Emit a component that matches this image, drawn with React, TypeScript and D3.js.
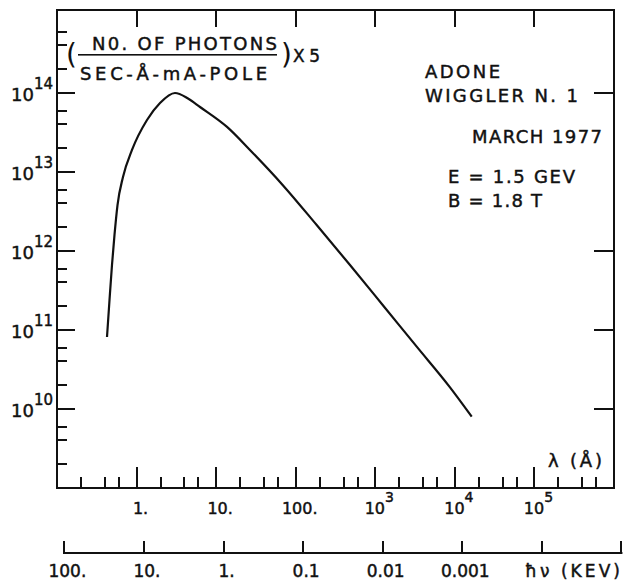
import React from "react";
import * as d3 from "d3";

// ---- data ----
const LAMBDA_A = [0.425, 0.457, 0.491, 0.528, 0.576, 0.675, 0.876, 1.352, 1.97, 3.04, 4.43, 6.27, 13.7, 26.6, 69.8, 183.5, 481, 1261, 3316, 8690, 16290];
const PHOTONS = [8.15e10, 2.4e11, 6.65e11, 1.6e12, 3.82e12, 8.65e12, 1.9e13, 4.55e13, 7.47e13, 1.0e14, 8.51e13, 6.65e13, 3.72e13, 1.9e13, 6.71e12, 2.13e12, 6.65e11, 2.03e11, 6.15e10, 1.88e10, 8.0e9];

const X_DECADES = [1, 10, 100, 1e3, 1e4, 1e5];
const X_LABEL_BASE = ["1.", "10.", "100.", "10", "10", "10"];
const X_LABEL_SUP = ["", "", "", "3", "4", "5"];
const X_MINOR_DECADES = [0.1, 1, 10, 100, 1e3, 1e4, 1e5];

const Y_DECADES = [1e10, 1e11, 1e12, 1e13, 1e14];
const Y_LABEL_SUP = ["10", "11", "12", "13", "14"];
const Y_MINOR_DECADES = [1e9, 1e10, 1e11, 1e12, 1e13, 1e14];
const Y_RIGHT_TICKS = [1e10, 1e11, 1e12, 1e14];
const MINOR_MULT = [2, 4, 6];

const HC_KEV_A = 12.398;
const ENERGY_KEV = [100, 10, 1, 0.1, 0.01, 0.001];
const ENERGY_LABELS = ["100.", "10.", "1.", "0.1", "0.01", "0.001"];
const ENERGY_EXTRA = [1e-4, 1e-5];

const INFO_LINES = ["ADONE", "WIGGLER N. 1", "MARCH 1977", "E = 1.5 GEV", "B = 1.8 T"];

export default function App() {
  const W = 623, H = 585;
  const L = 57, R = 614, T = 10, B = 488;
  const x = d3.scaleLog().domain([0.1, 1e6]).range([L, R]);
  const y = d3.scaleLog().domain([1e9, 1e15]).range([B, 14]);
  const ink = "#111111";
  const font = "'DejaVu Sans', sans-serif";

  const line = d3
    .line<number>()
    .x((_, i) => x(LAMBDA_A[i]))
    .y((d) => y(d))
    .curve(d3.curveMonotoneX);

  const xMinor: number[] = [];
  X_MINOR_DECADES.forEach((d) => MINOR_MULT.forEach((m) => xMinor.push(d * m)));
  const yMinor: number[] = [];
  Y_MINOR_DECADES.forEach((d) => MINOR_MULT.forEach((m) => yMinor.push(d * m)));

  const eY = 553;
  const energyAll = [...ENERGY_KEV, ...ENERGY_EXTRA];
  const eStart = x(HC_KEV_A / ENERGY_KEV[0]);
  const eEnd = x(HC_KEV_A / ENERGY_EXTRA[ENERGY_EXTRA.length - 1]);

  const xMajorPx = X_DECADES.map((d) => Math.round(x(d)));
  const xMinorPx = xMinor.map((v) => Math.round(x(v))).filter((p) => p > L + 2 && p < R - 2);
  const yMajorPx = Y_DECADES.map((d) => Math.round(y(d)));
  const yMinorPx = yMinor.map((v) => Math.round(y(v))).filter((p) => p > T + 2 && p < B - 2);
  const yRightPx = Y_RIGHT_TICKS.map((d) => Math.round(y(d)));
  const ePx = energyAll.map((e) => Math.round(x(HC_KEV_A / e)));

  const infoPos = [
    { x: 425, y: 78, w: 75 },
    { x: 425, y: 102, w: 153 },
    { x: 472, y: 143, w: 130 },
    { x: 448, y: 183, w: 127 },
    { x: 448, y: 207, w: 94 },
  ];

  const txt = { stroke: ink, strokeWidth: 0.45 };

  return (
    <svg
      width={W}
      height={H}
      style={{ position: "absolute", left: 0, top: 0, background: "#fff" }}
      fontFamily={font}
      fill={ink}
    >
      <rect x={0} y={0} width={W} height={H} fill="#fff" />

      {/* ticks */}
      <g fill={ink}>
        {xMajorPx.map((px, i) => (
          <rect key={"xb" + i} x={px - 1} y={B - 21} width={2} height={21} />
        ))}
        {xMinorPx.map((px, i) => (
          <rect key={"xm" + i} x={px - 1} y={B - 11} width={2} height={11} />
        ))}
        {xMajorPx.map((px, i) => (
          <rect key={"xt" + i} x={px - 1} y={T} width={2} height={17} />
        ))}
        {yMajorPx.map((py, i) => (
          <rect key={"yl" + i} x={L} y={py - 1} width={18} height={2} />
        ))}
        {yMinorPx.map((py, i) => (
          <rect key={"ym" + i} x={L} y={py - 1} width={10} height={2} />
        ))}
        {yRightPx.map((py, i) => (
          <rect key={"yr" + i} x={R - 20} y={py - 1} width={20} height={2} />
        ))}
        {ePx.map((px, i) => (
          <rect key={"et" + i} x={px - 1} y={eY - 12} width={2} height={13} />
        ))}
        <rect x={eStart - 1} y={eY - 1} width={eEnd - eStart + 2} height={2} />
      </g>

      {/* frame */}
      <rect x={L} y={T} width={R - L} height={B - T} fill="none" stroke={ink} strokeWidth={2} />

      {/* y labels */}
      {Y_DECADES.map((d, i) => (
        <text key={"yt" + d} x={53} y={y(d) + 8} fontSize={18} textAnchor="end" {...txt}>
          10
          <tspan dy={-12} fontSize={15}>{Y_LABEL_SUP[i]}</tspan>
        </text>
      ))}

      {/* x labels */}
      {X_DECADES.map((d, i) => (
        <text key={"xl" + d} x={x(d) + 4} y={514} fontSize={16} textAnchor="middle" {...txt}>
          {X_LABEL_BASE[i]}
          {X_LABEL_SUP[i] ? (
            <tspan dy={-12} fontSize={14}>{X_LABEL_SUP[i]}</tspan>
          ) : null}
        </text>
      ))}
      <text x={548} y={467} fontSize={18} textLength={54} lengthAdjust="spacing" {...txt}>λ (Å)</text>

      {/* energy labels */}
      {ENERGY_KEV.map((e, i) => (
        <text key={"el" + e} x={x(HC_KEV_A / e) + 3} y={577} fontSize={17} textAnchor="middle" {...txt}>
          {ENERGY_LABELS[i]}
        </text>
      ))}
      <text x={525} y={577} fontSize={17} textLength={95} lengthAdjust="spacing" {...txt}>ħν (KEV)</text>

      {/* curve */}
      <path d={line(PHOTONS) || ""} fill="none" stroke={ink} strokeWidth={2.2} strokeLinejoin="round" />

      {/* y-axis quantity label */}
      <text x={66} y={64} fontSize={28}>(</text>
      <text x={92} y={50} fontSize={18} textLength={185} lengthAdjust="spacing" {...txt}>N0. OF PHOTONS</text>
      <rect x={78} y={54} width={199} height={1.6} />
      <text x={80} y={80} fontSize={18} textLength={187} lengthAdjust="spacing" {...txt}>SEC-Å-mA-POLE</text>
      <text x={281} y={64} fontSize={28}>)</text>
      <text x={293} y={62} fontSize={17} textLength={27} lengthAdjust="spacing" {...txt}>X 5</text>

      {/* info block */}
      {INFO_LINES.map((t, i) => (
        <text key={t} x={infoPos[i].x} y={infoPos[i].y} fontSize={18} textLength={infoPos[i].w} lengthAdjust="spacing" {...txt}>
          {t}
        </text>
      ))}
    </svg>
  );
}
